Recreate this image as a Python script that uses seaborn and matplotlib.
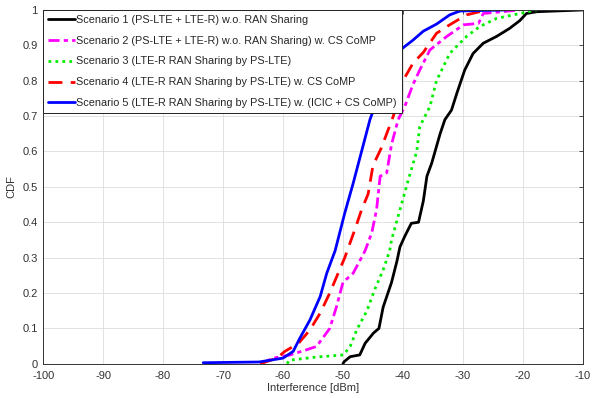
import matplotlib
matplotlib.use("Agg")
import matplotlib.pyplot as plt
import pandas as pd
import seaborn as sns

# CDF points (interference in dBm, cumulative probability)
s1_x = [-50.0, -49.8, -48.8, -47.2, -46.3, -44.9, -44.0, -43.3, -41.9, -41.0, -40.5, -39.7,
        -38.6, -37.4, -36.6, -36.0, -35.2, -33.8, -33.0, -31.9, -31.0, -29.7, -28.3, -26.6,
        -24.4, -22.2, -20.5, -19.4, -17.7, -10.0]
s1_y = [0.0, 0.006, 0.02, 0.025, 0.058, 0.087, 0.10, 0.16, 0.23, 0.29, 0.33, 0.36,
        0.397, 0.40, 0.46, 0.53, 0.567, 0.65, 0.69, 0.717, 0.765, 0.83, 0.877, 0.906,
        0.925, 0.948, 0.97, 0.99, 0.995, 1.0]

s2_x = [-63.8, -61.6, -58.8, -56.0, -54.4, -52.2, -51.1, -50.0, -48.3, -46.6, -46.3, -45.2,
        -44.4, -43.8, -42.7, -41.9, -40.8, -39.7, -38.3, -37.2, -35.5, -32.7, -29.9, -27.4,
        -26.6, -20.5]
s2_y = [0.0, 0.016, 0.025, 0.04, 0.049, 0.10, 0.16, 0.23, 0.256, 0.31, 0.32, 0.37,
        0.435, 0.53, 0.54, 0.62, 0.69, 0.727, 0.79, 0.83, 0.887, 0.925, 0.958, 0.962,
        0.99, 1.0]

s3_x = [-59.3, -59.0, -54.4, -49.9, -48.8, -47.7, -46.0, -44.7, -43.3, -42.2, -41.9, -40.5,
        -39.1, -37.7, -37.2, -35.5, -34.4, -32.2, -29.4, -27.2, -24.4, -20.5, -17.7]
s3_y = [0.0, 0.01, 0.019, 0.025, 0.049, 0.096, 0.15, 0.21, 0.265, 0.32, 0.35, 0.435,
        0.52, 0.60, 0.67, 0.727, 0.80, 0.877, 0.925, 0.953, 0.976, 0.99, 1.0]

s4_x = [-63.8, -61.0, -59.7, -57.4, -55.5, -53.8, -52.2, -50.8, -49.7, -48.0, -46.9, -45.8,
        -45.0, -43.6, -41.6, -40.0, -38.3, -36.6, -34.4, -32.2, -29.4, -26.0]
s4_y = [0.0, 0.016, 0.035, 0.058, 0.096, 0.143, 0.20, 0.256, 0.30, 0.38, 0.435, 0.48,
        0.56, 0.61, 0.70, 0.80, 0.85, 0.88, 0.934, 0.958, 0.986, 1.0]

s5_x = [-73.3, -64.0, -60.0, -58.3, -57.2, -55.5, -53.8, -52.7, -51.3, -49.7, -48.3, -46.9,
        -45.5, -44.0, -42.0, -40.2, -38.3, -36.6, -34.4, -32.2, -30.5, -22.7]
s5_y = [0.003, 0.005, 0.016, 0.035, 0.072, 0.124, 0.19, 0.256, 0.32, 0.426, 0.51, 0.60,
        0.69, 0.76, 0.83, 0.89, 0.915, 0.94, 0.96, 0.986, 0.997, 1.0]

labels = [
    "Scenario 1 (PS-LTE + LTE-R) w.o. RAN Sharing",
    "Scenario 2 (PS-LTE + LTE-R) w.o. RAN Sharing) w. CS CoMP",
    "Scenario 3 (LTE-R RAN Sharing by PS-LTE)",
    "Scenario 4 (LTE-R RAN Sharing by PS-LTE) w. CS CoMP",
    "Scenario 5 (LTE-R RAN Sharing by PS-LTE) w. (ICIC + CS CoMP)",
]
xs = [s1_x, s2_x, s3_x, s4_x, s5_x]
ys = [s1_y, s2_y, s3_y, s4_y, s5_y]

colors = ["black", "#ff00ff", "#00ee00", "#ff0000", "#0000ff"]
styles = ["-", (0, (4, 1.5, 1.5, 1.5)), (0, (1, 1.5)), (0, (5, 3)), "-"]

sns.set_theme(style="whitegrid")
plt.rcParams["font.family"] = ["Liberation Sans", "DejaVu Sans"]
plt.rcParams["axes.unicode_minus"] = False

fig = plt.figure(figsize=(5.99, 3.98), dpi=100)
ax = fig.add_axes([0.072, 0.086, 0.901, 0.889])

for x, y, lab, c, ls in zip(xs, ys, labels, colors, styles):
    df = pd.DataFrame({"x": x, "y": y})
    sns.lineplot(data=df, x="x", y="y", ax=ax, color=c, linestyle=ls,
                 linewidth=2, sort=False, label=lab, estimator=None)

ax.set_xlim(-100, -10)
ax.set_ylim(0, 1)
ax.set_xticks(range(-100, -9, 10))
ax.set_yticks([i / 10 for i in range(11)])
ax.set_yticklabels(["0", "0.1", "0.2", "0.3", "0.4", "0.5", "0.6", "0.7", "0.8", "0.9", "1"])
ax.set_xlabel("Interference [dBm]", fontsize=8, color="#333333", labelpad=2)
ax.set_ylabel("CDF", fontsize=8, color="#333333", labelpad=4)
ax.tick_params(axis="both", labelsize=8, colors="#333333", direction="in",
               length=3, width=0.6, top=True, right=True)
ax.tick_params(axis="x", pad=5)
ax.tick_params(axis="y", pad=4)
ax.grid(True, color="#dddddd", linewidth=0.6)
ax.set_facecolor("white")
for sp in ax.spines.values():
    sp.set_color("#333333")
    sp.set_linewidth(0.7)

leg = ax.legend(loc="upper left", fontsize=7.8, frameon=True, fancybox=False,
                borderaxespad=0.0, handlelength=2.5, handletextpad=0.1,
                labelspacing=1.0, borderpad=0.45, framealpha=1)
leg.get_frame().set_edgecolor("#222222")
leg.get_frame().set_linewidth(0.7)

fig.savefig("out.png", dpi=100)
